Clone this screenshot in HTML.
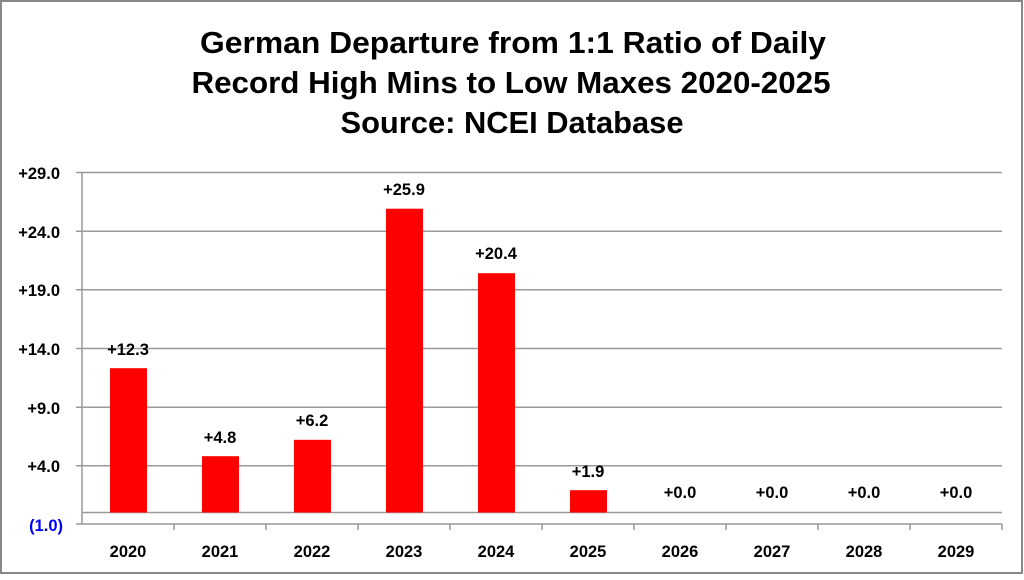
<!DOCTYPE html>
<html><head><style>body{margin:0;background:#fff}</style></head><body>
<svg width="1024" height="575" xmlns="http://www.w3.org/2000/svg" font-family="Liberation Sans, sans-serif">
<rect x="1" y="1" width="1021" height="572" fill="#fff" stroke="#888" stroke-width="2"/>
<g font-size="31" font-weight="bold" text-anchor="middle" fill="#000">
<text x="513" y="53" textLength="626" lengthAdjust="spacingAndGlyphs">German Departure from 1:1 Ratio of Daily</text>
<text x="511" y="93" textLength="639" lengthAdjust="spacingAndGlyphs">Record High Mins to Low Maxes 2020-2025</text>
<text x="512" y="133" textLength="343" lengthAdjust="spacingAndGlyphs">Source: NCEI Database</text>
</g>
<g stroke="#999" stroke-width="1.5">
<line x1="76" y1="172.5" x2="1002" y2="172.5"/>
<line x1="76" y1="231.2" x2="1002" y2="231.2"/>
<line x1="76" y1="289.8" x2="1002" y2="289.8"/>
<line x1="76" y1="348.5" x2="1002" y2="348.5"/>
<line x1="76" y1="407.2" x2="1002" y2="407.2"/>
<line x1="76" y1="465.8" x2="1002" y2="465.8"/>
<line x1="82" y1="512.5" x2="1002" y2="512.5"/>
<line x1="76" y1="524" x2="1002" y2="524"/>
<line x1="82" y1="172" x2="82" y2="524"/>
<line x1="174" y1="524" x2="174" y2="530"/><line x1="266" y1="524" x2="266" y2="530"/>
<line x1="358" y1="524" x2="358" y2="530"/><line x1="450" y1="524" x2="450" y2="530"/>
<line x1="542" y1="524" x2="542" y2="530"/><line x1="634" y1="524" x2="634" y2="530"/>
<line x1="726" y1="524" x2="726" y2="530"/><line x1="818" y1="524" x2="818" y2="530"/>
<line x1="910" y1="524" x2="910" y2="530"/><line x1="1002" y1="524" x2="1002" y2="530"/>
</g>
<g font-size="16.5" font-weight="bold" text-anchor="end">
<text x="60" y="179">+29.0</text><text x="60" y="238">+24.0</text><text x="60" y="296">+19.0</text>
<text x="60" y="355">+14.0</text><text x="60" y="414">+9.0</text><text x="60" y="472">+4.0</text>
<text x="63" y="531" fill="#0000ff">(1.0)</text>
</g>
<g fill="#ff0000">
<rect x="110" y="368.2" width="37" height="144.3"/>
<rect x="202" y="456.2" width="37" height="56.3"/>
<rect x="294" y="439.8" width="37" height="72.7"/>
<rect x="386" y="208.7" width="37" height="303.8"/>
<rect x="478" y="273.2" width="37" height="239.3"/>
<rect x="570" y="490.2" width="37" height="22.3"/>
</g>
<g font-size="16.5" font-weight="bold" text-anchor="middle">
<text x="128" y="355">+12.3</text><text x="220" y="443">+4.8</text><text x="312" y="426">+6.2</text>
<text x="404" y="195">+25.9</text><text x="496" y="259">+20.4</text><text x="588" y="477">+1.9</text>
<text x="680" y="498">+0.0</text><text x="772" y="498">+0.0</text><text x="864" y="498">+0.0</text><text x="956" y="498">+0.0</text>
<text x="128" y="557">2020</text><text x="220" y="557">2021</text><text x="312" y="557">2022</text>
<text x="404" y="557">2023</text><text x="496" y="557">2024</text><text x="588" y="557">2025</text>
<text x="680" y="557">2026</text><text x="772" y="557">2027</text><text x="864" y="557">2028</text><text x="956" y="557">2029</text>
</g>
</svg>
</body></html>
